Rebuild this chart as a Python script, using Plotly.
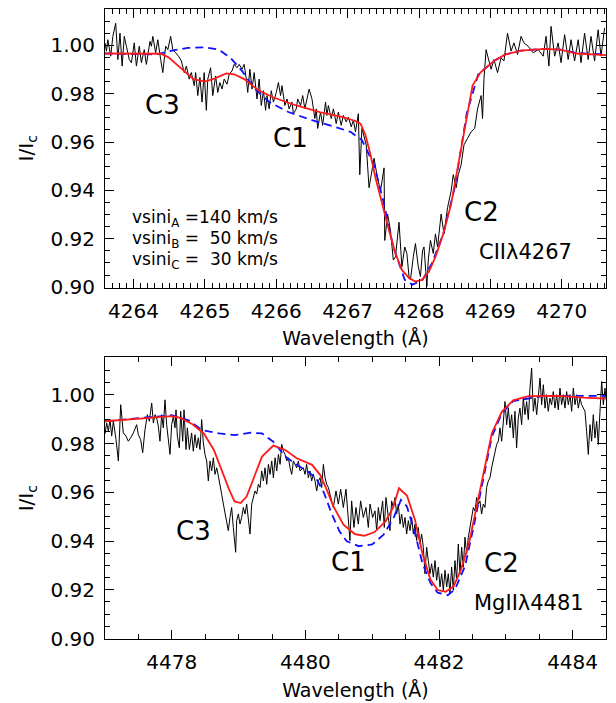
import plotly.graph_objects as go

# ---------------- Top panel: C II 4267 ----------------
top_obs_wl = [4263.60,4263.62,4263.64,4263.68,4263.71,4263.75,4263.78,4263.81,4263.84,4263.87,
              4263.90,4263.94,4263.97,4264.01,4264.04,4264.08,4264.11,4264.15,4264.18,4264.23,
              4264.25,4264.27,4264.31,4264.34,4264.38,4264.41,4264.45,4264.48,4264.52,4264.55,
              4264.59,4264.63,4264.67,4264.71,4264.74,4264.78,4264.81,4264.85,4264.87,4264.90,
              4264.93,4264.96,4264.99,4265.02,4265.04,4265.08,4265.11,4265.15,4265.18,4265.21,
              4265.24,4265.27,4265.31,4265.34,4265.38,4265.41,4265.45,4265.48,4265.52,4265.55,
              4265.58,4265.60,4265.63,4265.66,4265.69,4265.73,4265.76,4265.79,4265.82,4265.85,
              4265.87,4265.90,4265.93,4265.96,4266.00,4266.03,4266.06,4266.08,4266.12,4266.15,
              4266.18,4266.22,4266.24,4266.28,4266.30,4266.34,4266.37,4266.40,4266.43,4266.46,
              4266.50,4266.54,4266.56,4266.58,4266.62,4266.65,4266.69,4266.71,4266.73,4266.77,
              4266.80,4266.84,4266.87,4266.91,4266.94,4266.98,4267.01,4267.05,4267.08,4267.11,
              4267.15,4267.17,4267.20,4267.22,4267.26,4267.30,4267.37,4267.41,4267.46,4267.51,
              4267.52,4267.56,4267.60,4267.64,4267.67,4267.72,4267.76,4267.80,4267.83,4267.86,
              4267.88,4267.92,4267.95,4267.99,4268.02,4268.05,4268.07,4268.11,4268.13,4268.16,
              4268.20,4268.23,4268.26,4268.29,4268.31,4268.35,4268.40,4268.45,4268.48,4268.52,
              4268.55,4268.59,4268.63,4268.68,4268.73,4268.78,4268.82,4268.87,4268.89,4268.91,
              4268.94,4268.98,4269.01,4269.05,4269.10,4269.15,4269.19,4269.24,4269.29,4269.33,
              4269.38,4269.43,4269.47,4269.53,4269.60,4269.67,4269.74,4269.78,4269.82,4269.85,
              4269.90,4269.95,4269.99,4270.04,4270.09,4270.13,4270.18,4270.23,4270.27,4270.32,
              4270.37,4270.41,4270.46,4270.51,4270.55,4270.60]
top_obs_flux = [1.0010,0.9976,1.0023,0.9955,1.0037,1.0091,0.9941,1.0050,0.9914,1.0037,
                0.9996,0.9941,0.9928,1.0010,0.9914,0.9996,0.9928,0.9982,0.9921,1.0016,
                0.9996,1.0037,0.9969,1.0023,0.9941,0.9887,0.9996,0.9982,1.0037,0.9982,
                0.9969,0.9955,0.9935,0.9887,0.9914,0.9860,0.9887,0.9833,0.9887,0.9792,
                0.9867,0.9765,0.9887,0.9731,0.9860,0.9907,0.9792,0.9873,0.9805,0.9846,
                0.9819,0.9860,0.9839,0.9880,0.9894,0.9921,0.9907,0.9921,0.9901,0.9921,
                0.9860,0.9805,0.9901,0.9819,0.9887,0.9778,0.9860,0.9751,0.9812,0.9731,
                0.9792,0.9737,0.9812,0.9765,0.9805,0.9846,0.9792,0.9833,0.9751,0.9778,
                0.9737,0.9765,0.9717,0.9737,0.9778,0.9751,0.9792,0.9737,0.9778,0.9819,
                0.9778,0.9697,0.9737,0.9656,0.9724,0.9669,0.9765,0.9710,0.9751,0.9697,
                0.9737,0.9676,0.9724,0.9669,0.9710,0.9683,0.9703,0.9663,0.9690,0.9642,
                0.9717,0.9465,0.9656,0.9629,0.9588,0.9411,0.9533,0.9465,0.9397,0.9493,
                0.9193,0.9302,0.9234,0.9112,0.9125,0.9268,0.9084,0.9166,0.9139,0.9044,
                0.9030,0.9125,0.9180,0.9084,0.9044,0.9152,0.9166,0.9003,0.9112,0.9193,
                0.9139,0.9220,0.9166,0.9248,0.9302,0.9220,0.9329,0.9397,0.9465,0.9411,
                0.9465,0.9506,0.9588,0.9615,0.9642,0.9656,0.9737,0.9792,0.9697,0.9860,
                0.9982,0.9935,0.9901,0.9941,0.9887,0.9948,0.9935,1.0050,0.9976,1.0010,
                0.9962,1.0037,1.0010,0.9996,0.9969,0.9982,0.9955,1.0037,0.9914,1.0078,
                0.9955,1.0010,0.9928,1.0044,0.9941,1.0023,0.9935,1.0023,0.9928,1.0050,
                0.9941,1.0037,0.9935,1.0064,0.9955,1.0071]

top_fitA_wl = [4263.60,4264.38,4264.49,4264.65,4264.84,4265.00,4265.14,4265.30,4265.41,4265.55,
               4265.74,4265.95,4266.28,4266.61,4266.93,4267.10,4267.18,4267.25,4267.32,4267.39,
               4267.48,4267.58,4267.67,4267.76,4267.86,4267.95,4268.04,4268.14,4268.23,4268.34,
               4268.45,4268.56,4268.67,4268.75,4268.86,4269.05,4269.21,4269.43,4269.76,4269.98,
               4270.20,4270.42,4270.62]
top_fitA_flux = [0.9966,0.9965,0.9950,0.9907,0.9860,0.9850,0.9863,0.9884,0.9880,0.9860,
                 0.9816,0.9785,0.9751,0.9724,0.9703,0.9688,0.9676,0.9629,0.9547,0.9452,
                 0.9343,0.9234,0.9139,0.9071,0.9037,0.9023,0.9030,0.9064,0.9125,0.9220,
                 0.9343,0.9520,0.9710,0.9833,0.9887,0.9935,0.9962,0.9978,0.9985,0.9982,
                 0.9966,0.9961,0.9959]

top_fitB_wl = [4263.60,4264.33,4264.54,4264.76,4265.00,4265.19,4265.36,4265.52,4265.68,4265.90,
               4266.17,4266.50,4266.82,4267.04,4267.20,4267.37,4267.50,4267.64,4267.80,4267.91,
               4268.05,4268.18,4268.34,4268.50,4268.67,4268.83,4269.05,4269.21,4269.43,4269.76,
               4269.98,4270.20,4270.62]
top_fitB_flux = [0.9966,0.9962,0.9978,0.9989,0.9992,0.9982,0.9948,0.9894,0.9826,0.9765,
                 0.9724,0.9690,0.9663,0.9642,0.9608,0.9506,0.9356,0.9166,0.9030,0.9010,
                 0.9030,0.9098,0.9220,0.9411,0.9720,0.9880,0.9935,0.9962,0.9978,0.9985,
                 0.9982,0.9968,0.9962]

# ---------------- Bottom panel: Mg II 4481 ----------------
bot_obs_wl = [4477.000,4477.025,4477.050,4477.075,4477.100,4477.125,4477.165,4477.200,4477.235,4477.274,
              4477.314,4477.349,4477.384,4477.424,4477.474,4477.499,4477.534,4477.564,4477.599,4477.634,
              4477.664,4477.699,4477.724,4477.749,4477.773,4477.798,4477.823,4477.848,4477.873,4477.898,
              4477.923,4477.948,4477.973,4477.998,4478.023,4478.048,4478.063,4478.083,4478.113,4478.133,
              4478.163,4478.183,4478.213,4478.233,4478.263,4478.297,4478.322,4478.347,4478.372,4478.397,
              4478.422,4478.447,4478.472,4478.497,4478.522,4478.547,4478.572,4478.597,4478.622,4478.647,
              4478.672,4478.697,4478.722,4478.747,4478.772,4478.797,4478.822,4478.846,4478.871,4478.896,
              4478.921,4478.936,4478.956,4478.971,4478.996,4479.021,4479.046,4479.071,4479.096,4479.121,
              4479.146,4479.171,4479.196,4479.221,4479.246,4479.271,4479.296,4479.321,4479.346,4479.371,
              4479.396,4479.421,4479.446,4479.471,4479.496,4479.521,4479.546,4479.571,4479.596,4479.621,
              4479.646,4479.671,4479.695,4479.720,4479.745,4479.770,4479.795,4479.820,4479.845,4479.870,
              4479.895,4479.919,4479.969,4479.994,4480.019,4480.044,4480.069,4480.094,4480.119,4480.144,
              4480.169,4480.194,4480.219,4480.244,4480.269,4480.294,4480.319,4480.344,4480.368,4480.418,
              4480.458,4480.493,4480.528,4480.568,4480.608,4480.642,4480.667,4480.692,4480.727,4480.757,
              4480.792,4480.827,4480.867,4480.907,4480.942,4480.967,4481.007,4481.042,4481.067,4481.092,
              4481.117,4481.156,4481.181,4481.206,4481.241,4481.266,4481.291,4481.316,4481.341,4481.366,
              4481.391,4481.416,4481.441,4481.466,4481.491,4481.516,4481.541,4481.566,4481.591,4481.616,
              4481.641,4481.665,4481.690,4481.715,4481.740,4481.765,4481.790,4481.815,4481.840,4481.865,
              4481.890,4481.915,4481.940,4481.965,4481.990,4482.015,4482.040,4482.065,4482.090,4482.115,
              4482.139,4482.164,4482.189,4482.214,4482.239,4482.264,4482.289,4482.314,4482.339,4482.364,
              4482.389,4482.414,4482.439,4482.464,4482.489,4482.514,4482.539,4482.564,4482.589,4482.613,
              4482.638,4482.663,4482.688,4482.713,4482.738,4482.763,4482.788,4482.813,4482.838,4482.863,
              4482.888,4482.913,4482.938,4482.963,4482.988,4483.013,4483.038,4483.063,4483.088,4483.113,
              4483.137,4483.162,4483.187,4483.212,4483.237,4483.262,4483.287,4483.312,4483.337,4483.362,
              4483.387,4483.412,4483.437,4483.462,4483.487,4483.512,4483.537,4483.562,4483.587,4483.611,
              4483.636,4483.661,4483.686,4483.711,4483.736,4483.761,4483.786,4483.811,4483.836,4483.861,
              4483.886,4483.911,4483.936,4483.961,4483.986,4484.011,4484.036,4484.061,4484.086,4484.111,
              4484.135,4484.160,4484.185,4484.210,4484.235,4484.260,4484.285,4484.310,4484.335,4484.360,
              4484.385,4484.410,4484.435,4484.460,4484.485,4484.500]
bot_obs_flux = [0.9840,0.9885,0.9851,0.9899,0.9831,0.9892,0.9817,0.9729,0.9960,0.9844,
                0.9831,0.9810,0.9824,0.9844,0.9878,0.9837,0.9817,0.9763,0.9858,0.9919,
                0.9892,0.9967,0.9885,0.9919,0.9906,0.9872,0.9810,0.9919,0.9865,0.9980,
                0.9878,0.9810,0.9756,0.9878,0.9912,0.9865,0.9939,0.9831,0.9783,0.9933,
                0.9810,0.9939,0.9776,0.9865,0.9776,0.9844,0.9769,0.9837,0.9783,0.9824,
                0.9776,0.9899,0.9803,0.9756,0.9729,0.9647,0.9729,0.9688,0.9742,0.9674,
                0.9701,0.9667,0.9620,0.9592,0.9552,0.9511,0.9470,0.9443,0.9497,0.9538,
                0.9456,0.9416,0.9354,0.9484,0.9511,0.9470,0.9497,0.9538,0.9511,0.9552,
                0.9484,0.9429,0.9552,0.9579,0.9606,0.9593,0.9633,0.9620,0.9688,0.9647,
                0.9701,0.9633,0.9715,0.9674,0.9729,0.9660,0.9742,0.9688,0.9756,0.9715,
                0.9797,0.9769,0.9756,0.9729,0.9742,0.9701,0.9674,0.9729,0.9715,0.9701,
                0.9729,0.9688,0.9701,0.9674,0.9715,0.9660,0.9688,0.9647,0.9674,0.9647,
                0.9606,0.9647,0.9660,0.9620,0.9715,0.9660,0.9633,0.9620,0.9593,0.9538,
                0.9606,0.9552,0.9613,0.9538,0.9613,0.9497,0.9402,0.9565,0.9456,0.9538,
                0.9470,0.9565,0.9497,0.9538,0.9456,0.9552,0.9497,0.9524,0.9443,0.9538,
                0.9484,0.9565,0.9456,0.9579,0.9511,0.9443,0.9565,0.9538,0.9579,0.9511,
                0.9552,0.9470,0.9511,0.9456,0.9497,0.9429,0.9484,0.9443,0.9497,0.9429,
                0.9470,0.9402,0.9456,0.9388,0.9429,0.9375,0.9266,0.9375,0.9320,0.9266,
                0.9307,0.9252,0.9320,0.9239,0.9293,0.9212,0.9266,0.9198,0.9280,0.9212,
                0.9266,0.9184,0.9293,0.9198,0.9320,0.9239,0.9388,0.9266,0.9375,0.9293,
                0.9416,0.9347,0.9416,0.9456,0.9511,0.9538,0.9524,0.9579,0.9552,0.9565,
                0.9511,0.9552,0.9538,0.9620,0.9647,0.9660,0.9701,0.9729,0.9769,0.9797,
                0.9810,0.9865,0.9810,0.9906,0.9973,0.9878,0.9946,0.9865,0.9919,0.9824,
                0.9933,0.9783,0.9906,0.9946,0.9878,0.9987,0.9919,0.9973,0.9899,1.0028,
                1.0110,0.9933,0.9987,0.9919,1.0001,1.0069,0.9960,1.0042,0.9946,1.0001,
                0.9933,0.9987,0.9960,1.0014,0.9946,1.0001,0.9939,1.0028,0.9960,1.0001,
                0.9946,1.0014,0.9960,1.0001,0.9933,1.0028,0.9960,1.0001,0.9946,0.9987,
                0.9960,0.9946,0.9933,0.9851,0.9756,0.9878,0.9810,0.9919,0.9824,0.9892,
                0.9797,0.9933,1.0055,0.9960,1.0028,0.9987]

bot_fitA_wl = [4477.00,4477.32,4477.67,4478.00,4478.13,4478.31,4478.48,4478.63,4478.74,4478.86,
               4478.94,4479.03,4479.12,4479.23,4479.35,4479.52,4479.70,4479.87,4480.10,4480.22,
               4480.30,4480.42,4480.57,4480.74,4480.88,4481.03,4481.20,4481.32,4481.40,4481.52,
               4481.64,4481.75,4481.87,4481.98,4482.10,4482.22,4482.33,4482.45,4482.56,4482.68,
               4482.79,4482.94,4483.11,4483.34,4483.81,4484.16,4484.50]
bot_fitA_flux = [0.9892,0.9900,0.9906,0.9913,0.9906,0.9880,0.9842,0.9774,0.9692,0.9610,
                 0.9563,0.9556,0.9583,0.9665,0.9747,0.9792,0.9774,0.9740,0.9713,0.9672,
                 0.9624,0.9542,0.9467,0.9429,0.9422,0.9436,0.9481,0.9542,0.9617,0.9587,
                 0.9488,0.9351,0.9243,0.9199,0.9192,0.9215,0.9283,0.9392,0.9542,0.9706,
                 0.9842,0.9931,0.9978,0.9995,0.9996,0.9989,0.9985]

bot_fitB_wl = [4477.00,4477.67,4478.00,4478.25,4478.45,4478.71,4478.94,4479.18,4479.35,4479.52,
               4479.70,4479.87,4480.04,4480.16,4480.28,4480.39,4480.51,4480.62,4480.80,4481.00,
               4481.17,4481.32,4481.43,4481.52,4481.64,4481.75,4481.87,4481.98,4482.13,4482.24,
               4482.39,4482.53,4482.68,4482.79,4482.94,4483.11,4483.57,4484.16,4484.50]
bot_fitB_flux = [0.9892,0.9910,0.9917,0.9896,0.9856,0.9842,0.9835,0.9845,0.9842,0.9808,
                 0.9747,0.9713,0.9685,0.9658,0.9597,0.9515,0.9440,0.9399,0.9379,0.9386,
                 0.9426,0.9495,0.9569,0.9542,0.9433,0.9311,0.9229,0.9188,0.9178,0.9202,
                 0.9297,0.9474,0.9678,0.9828,0.9924,0.9975,0.9996,0.9996,0.9996]

y_ticks = [0.90, 0.92, 0.94, 0.96, 0.98, 1.00]
top_x_ticks = [4264, 4265, 4266, 4267, 4268, 4269, 4270]
bot_x_ticks = [4478, 4480, 4482, 4484]

FONT = "DejaVu Sans"
fig = go.Figure()

def add_panel(xa, ya, ow, of, aw, af, bw, bf):
    fig.add_trace(go.Scatter(x=ow, y=of, mode="lines", line=dict(color="black", width=1),
                             xaxis=xa, yaxis=ya, showlegend=False))
    fig.add_trace(go.Scatter(x=bw, y=bf, mode="lines",
                             line=dict(color="#1010ff", width=1.8, dash="8px,5px"),
                             xaxis=xa, yaxis=ya, showlegend=False))
    fig.add_trace(go.Scatter(x=aw, y=af, mode="lines", line=dict(color="#ff1a1a", width=1.8),
                             xaxis=xa, yaxis=ya, showlegend=False))

add_panel("x", "y", top_obs_wl, top_obs_flux, top_fitA_wl, top_fitA_flux, top_fitB_wl, top_fitB_flux)
add_panel("x2", "y2", bot_obs_wl, bot_obs_flux, bot_fitA_wl, bot_fitA_flux, bot_fitB_wl, bot_fitB_flux)

tickfont = dict(family=FONT, size=20, color="black")
common_x = dict(showline=True, linecolor="black", linewidth=1, mirror="ticks", ticks="inside",
                ticklen=9, tickwidth=1, tickcolor="black", showgrid=False, zeroline=False,
                tickfont=tickfont, ticklabelstandoff=5,
                title=dict(text="Wavelength (Å)", font=dict(family=FONT, size=19, color="black"),
                           standoff=10))
common_y = dict(showline=True, linecolor="black", linewidth=1, mirror="ticks", ticks="inside",
                ticklen=9, tickwidth=1, tickcolor="black", showgrid=False, zeroline=False,
                tickfont=tickfont, tickvals=y_ticks, tickformat=".2f", ticklabelstandoff=5,
                minor=dict(ticks="inside", ticklen=5, dtick=0.005, tickcolor="black", tickwidth=1),
                title=dict(text="I/I<sub>c</sub>", font=dict(family=FONT, size=20, color="black"),
                           standoff=11))

# The page body adds an 8 px offset, so the figure is sized to fit the window.
fig.update_layout(
    width=608, height=695, paper_bgcolor="white", plot_bgcolor="white",
    margin=dict(l=97, r=10, t=1, b=64),
    xaxis=dict(common_x, domain=[0, 1], anchor="y", range=[4263.6, 4270.62], tickvals=top_x_ticks,
               minor=dict(ticks="inside", ticklen=5, dtick=0.1, tick0=4264, tickcolor="black", tickwidth=1)),
    yaxis=dict(common_y, domain=[0.5578, 1], anchor="x", range=[0.8998, 1.015]),
    xaxis2=dict(common_x, domain=[0, 1], anchor="y2", range=[4477.0, 4484.5], tickvals=bot_x_ticks,
                minor=dict(ticks="inside", ticklen=5, dtick=0.5, tick0=4478, tickcolor="black", tickwidth=1)),
    yaxis2=dict(common_y, domain=[0, 0.4469], anchor="x2", range=[0.8998, 1.0154]),
)

ann_font_big = dict(family=FONT, size=26, color="black")
ann_font_mid = dict(family=FONT, size=21, color="black")
ann_font_small = dict(family=FONT, size=17, color="black")

labels = [
    ("x", "y", 4264.41, 0.9751, "C3", ann_font_big, "center"),
    ("x", "y", 4266.20, 0.9615, "C1", ann_font_big, "center"),
    ("x", "y", 4268.87, 0.9311, "C2", ann_font_big, "center"),
    ("x", "y", 4269.49, 0.9144, "CIIλ4267", ann_font_mid, "center"),
    ("x", "y", 4263.95, 0.9283, "vsini<sub>A</sub> =140 km/s", ann_font_small, "left"),
    ("x", "y", 4263.95, 0.9197, "vsini<sub>B</sub> =\u00a0\u00a050 km/s", ann_font_small, "left"),
    ("x", "y", 4263.95, 0.9111, "vsini<sub>C</sub> =\u00a0\u00a030 km/s", ann_font_small, "left"),
    ("x2", "y2", 4478.33, 0.9440, "C3", ann_font_big, "center"),
    ("x2", "y2", 4480.65, 0.9315, "C1", ann_font_big, "center"),
    ("x2", "y2", 4482.93, 0.9312, "C2", ann_font_big, "center"),
    ("x2", "y2", 4483.35, 0.9145, "MgIIλ4481", ann_font_mid, "center"),
]
for xr, yr, xv, yv, txt, fnt, anc in labels:
    fig.add_annotation(x=xv, y=yv, xref=xr, yref=yr, text=txt, showarrow=False,
                       font=fnt, xanchor=anc, yanchor="middle")

fig.write_html("out.html")
